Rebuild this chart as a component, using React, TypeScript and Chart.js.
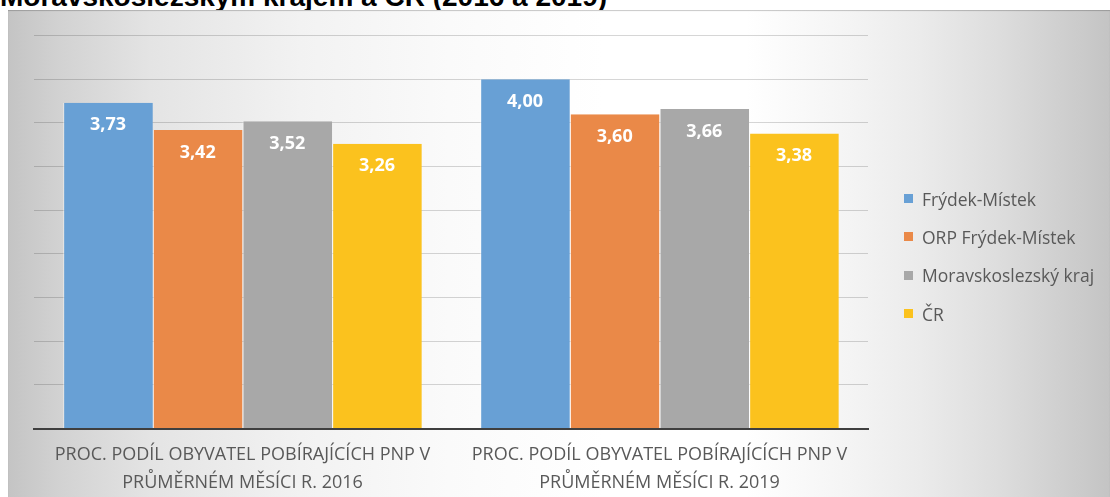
import React, { useEffect, useRef } from 'react';
import { Chart, registerables } from 'chart.js';

Chart.register(...registerables);

const titleText = 'Moravskoslezským krajem a ČR (2016 a 2019)';
const categories: string[][] = [
  ['PROC. PODÍL OBYVATEL POBÍRAJÍCÍCH PNP V', 'PRŮMĚRNÉM MĚSÍCI R. 2016'],
  ['PROC. PODÍL OBYVATEL POBÍRAJÍCÍCH PNP V', 'PRŮMĚRNÉM MĚSÍCI R. 2019'],
];
const seriesNames = ['Frýdek-Místek', 'ORP Frýdek-Místek', 'Moravskoslezský kraj', 'ČR'];
const frydekMistek = [3.73, 4.0];
const orpFrydekMistek = [3.42, 3.6];
const moravskoslezskyKraj = [3.52, 3.66];
const ceskaRepublika = [3.26, 3.38];
const seriesValues = [frydekMistek, orpFrydekMistek, moravskoslezskyKraj, ceskaRepublika];
const seriesColors = ['#68A0D5', '#EA8948', '#A8A8A8', '#FBC21E'];
const yMin = 0;
const yMax = 4.5;
const yStep = 0.5;

const FONT = '"Open Sans", "Noto Sans", sans-serif';

const valueLabels = {
  id: 'valueLabels',
  afterDatasetsDraw(chart: any) {
    const ctx = chart.ctx;
    ctx.save();
    ctx.font = `bold 18px ${FONT}`;
    ctx.fillStyle = '#ffffff';
    ctx.textAlign = 'center';
    ctx.textBaseline = 'middle';
    chart.data.datasets.forEach((ds: any, i: number) => {
      const meta = chart.getDatasetMeta(i);
      meta.data.forEach((bar: any, j: number) => {
        const v = ds.data[j] as number;
        ctx.fillText(v.toFixed(2).replace('.', ','), bar.x, bar.y + 22.5);
      });
    });
    ctx.restore();
  },
};

export default function App() {
  const canvasRef = useRef<HTMLCanvasElement | null>(null);

  useEffect(() => {
    let chart: Chart | null = null;
    let cancelled = false;
    const make = () => {
      if (cancelled || !canvasRef.current) return;
      chart = new Chart(canvasRef.current, {
        type: 'bar',
        data: {
          labels: categories,
          datasets: seriesNames.map((name, i) => ({
            label: name,
            data: seriesValues[i],
            backgroundColor: seriesColors[i],
            borderColor: 'rgba(255,255,255,0.55)',
            borderWidth: { left: 1, right: 0, top: 0, bottom: 0 },
            barPercentage: 1,
            categoryPercentage: 0.86,
          })),
        },
        options: {
          animation: false,
          responsive: false,
          maintainAspectRatio: false,
          layout: { padding: { left: 26, right: 242, top: 25.6, bottom: 0 } },
          plugins: {
            legend: { display: false },
            tooltip: { enabled: false },
            title: { display: false },
          },
          scales: {
            x: {
              grid: { display: false, drawTicks: false },
              border: { display: true, color: '#3f3f3f', width: 2 },
              ticks: {
                color: '#595959',
                padding: 12.75,
                font: { family: FONT, size: 18, lineHeight: 27.5 / 18 },
                maxRotation: 0,
                autoSkip: false,
              },
            },
            y: {
              min: yMin,
              max: yMax,
              ticks: { display: false, stepSize: yStep },
              grid: { color: 'rgba(0,0,0,0.16)', drawTicks: false, lineWidth: 1 },
              border: { display: false },
            },
          },
        },
        plugins: [valueLabels],
      });
    };
    const fontsReady = (document as any).fonts
      ? Promise.all([
          (document as any).fonts.load(`18px "Open Sans"`),
          (document as any).fonts.load(`bold 18px "Open Sans"`),
        ]).catch(() => null)
      : Promise.resolve(null);
    fontsReady.then(make);
    return () => {
      cancelled = true;
      if (chart) chart.destroy();
    };
  }, []);

  const legendBaseY = 188.5;
  const legendStep = 38.4;

  return (
    <div style={{ position: 'absolute', left: 0, top: 0, width: 1110, height: 497, overflow: 'hidden', background: '#ffffff' }}>
      <div
        style={{
          position: 'absolute',
          left: 0,
          top: -16.8,
          fontFamily: '"Liberation Sans", Arial, sans-serif',
          fontWeight: 'bold',
          fontSize: 28,
          lineHeight: 1,
          whiteSpace: 'nowrap',
          color: '#000000',
          zIndex: 0,
        }}
      >
        {titleText}
      </div>
      <div
        style={{
          position: 'absolute',
          left: 8,
          top: 10,
          width: 1102,
          height: 487,
          overflow: 'hidden',
          zIndex: 1,
          background:
            'linear-gradient(to right, #c4c4c4 0%, #d2d2d2 4.7%, #e4e4e4 12.9%, #f2f2f2 26.5%, #fafafa 40%, #ffffff 54%, #ffffff 67%, #f4f4f4 76.4%, #ebebeb 82.8%, #dddddd 90%, #cbcbcb 97.3%, #c4c4c4 100%)',
          boxShadow: 'inset 0 1px 1px rgba(0,0,0,0.22)',
        }}
      >
        <canvas ref={canvasRef} width={1102} height={499} style={{ position: 'absolute', left: 0, top: 0, width: 1102, height: 499 }} />
        {seriesNames.map((name, i) => (
          <div
            key={name}
            style={{
              position: 'absolute',
              left: 896,
              top: legendBaseY + i * legendStep - 12,
              height: 24,
              display: 'flex',
              alignItems: 'center',
              whiteSpace: 'nowrap',
              fontFamily: FONT,
              fontSize: 17.5,
              color: '#595959',
            }}
          >
            <span style={{ display: 'inline-block', width: 9, height: 9, background: seriesColors[i], marginRight: 9 }} />
            <span>{name}</span>
          </div>
        ))}
      </div>
    </div>
  );
}
